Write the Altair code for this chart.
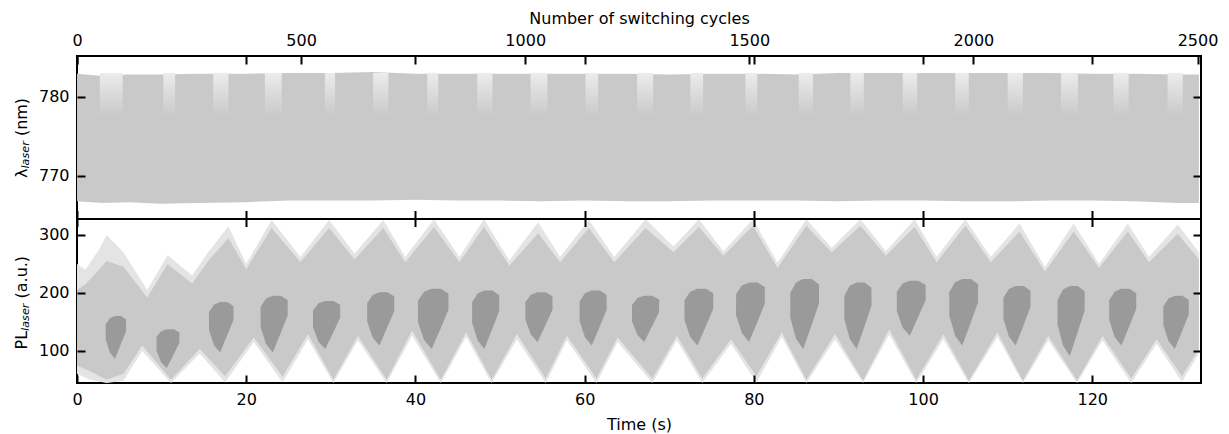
import altair as alt
import pandas as pd

# ---------------- data ----------------
T_MAX = 132.85
CYC_MAX = 2507.8
LAM_DOMAIN = [764.64, 785.13]
PL_DOMAIN = [44.2, 328.5]

time_ticks = [0, 20, 40, 60, 80, 100, 120]
cycle_ticks = [0, 500, 1000, 1500, 2000, 2500]
lam_ticks = [770, 780]
pl_ticks = [100, 200, 300]

# top panel: envelope of the laser wavelength trace
lam_t = [0, 3, 6, 10, 14, 20, 25, 30, 35, 40, 45, 50, 55, 60, 65, 70, 75, 80,
         85, 90, 95, 100, 105, 110, 115, 120, 125, 130, 132.6]
lam_hi = [782.9, 782.6, 782.8, 782.8, 782.9, 782.9, 783.0, 783.0, 783.1, 782.9,
          782.9, 782.9, 782.9, 782.9, 782.9, 782.8, 782.9, 782.9, 782.8, 783.0,
          783.0, 783.0, 783.0, 783.0, 783.0, 782.9, 782.9, 782.8, 782.8]
lam_lo = [766.8, 766.6, 766.7, 766.5, 766.6, 766.7, 766.9, 766.9, 766.9, 767.0,
          766.9, 766.9, 766.8, 766.9, 766.8, 766.8, 766.9, 766.9, 766.9, 766.8,
          766.9, 766.9, 766.8, 766.8, 766.9, 766.9, 766.8, 766.6, 766.6]

# lighter (sparser) stripes near the top of the wavelength band
stripe_start = [2.7, 10.2, 16.1, 22.2, 29.3, 35.0, 41.4, 47.3, 53.6, 60.1, 66.2,
                72.5, 79.0, 85.3, 91.4, 97.6, 103.8, 110.0, 116.3, 122.5, 128.9]
stripe_end = [5.4, 11.6, 17.9, 24.2, 30.5, 36.8, 42.7, 49.1, 55.6, 61.6, 68.1,
              74.0, 80.4, 87.0, 93.0, 99.3, 105.4, 111.8, 118.3, 124.3, 130.7]
stripe_hi = 783.0
stripe_lo = 777.5

# bottom panel: upper and lower envelope of the PL trace (dense part)
pl_up_t = [0, 1.0, 2.6, 3.5, 5.5, 8.3, 10.7, 13.6, 15.5, 17.9, 20.0, 23.0, 26.4,
           29.8, 32.8, 36.2, 38.8, 42.2, 45.2, 48.1, 51.1, 54.5, 57.1, 60.5, 63.5,
           67.2, 70.5, 73.5, 76.4, 79.9, 82.8, 86.2, 89.2, 92.6, 95.6, 99.0,
           101.6, 105.0, 108.0, 111.4, 114.4, 117.8, 120.8, 124.2, 126.7, 130.1,
           132.6]
pl_up = [205, 215, 240, 255, 245, 192, 250, 216, 255, 295, 241, 312, 253, 312,
         258, 312, 253, 314, 253, 314, 247, 303, 253, 312, 253, 312, 270, 314,
         264, 316, 243, 316, 270, 316, 264, 314, 253, 316, 253, 306, 237, 306,
         243, 306, 253, 302, 258]
# faint outer spikes above the dense part
pl_up_faint = [250, 240, 275, 300, 270, 205, 265, 230, 270, 315, 250, 326, 262,
               326, 268, 326, 262, 327, 262, 327, 256, 322, 262, 326, 262, 327,
               280, 327, 272, 327, 252, 327, 278, 327, 272, 327, 262, 327, 262,
               320, 245, 320, 250, 320, 262, 318, 270]
pl_lo_t = [0, 1.5, 3.5, 5.5, 7.7, 11.1, 14.5, 17.5, 20.9, 24.3, 27.3, 30.3, 33.2,
           36.6, 39.6, 43.0, 46.0, 49.0, 52.0, 55.4, 57.9, 61.4, 63.9, 68.0, 70.9,
           73.9, 77.3, 80.3, 83.3, 86.2, 89.6, 92.9, 96.0, 99.2, 102.4, 105.4,
           108.8, 111.8, 114.8, 118.2, 121.2, 124.6, 127.6, 130.6, 132.6]
pl_lo = [74, 65, 50, 60, 109, 50, 103, 56, 123, 55, 129, 50, 126, 50, 135, 50,
         132, 50, 129, 52, 126, 52, 123, 52, 126, 52, 120, 56, 132, 50, 129, 48,
         137, 50, 129, 48, 132, 48, 126, 48, 126, 52, 120, 56, 103]
pl_lo_faint = [60, 50, 44, 48, 100, 44, 95, 45, 115, 45, 120, 44, 118, 44, 126,
               44, 124, 44, 120, 44, 118, 44, 115, 44, 118, 44, 112, 45, 124, 44,
               120, 44, 128, 44, 120, 44, 124, 44, 118, 44, 118, 44, 112, 46, 95]

# darker (overlapping) blobs in the PL trace: time extent and value extent
blob_start = [3.4, 9.4, 15.6, 21.7, 27.9, 34.3, 40.3, 46.7, 53.0, 59.4, 65.6,
              71.8, 77.9, 84.3, 90.7, 96.9, 103.1, 109.5, 115.9, 122.0, 128.4]
blob_end = [5.8, 12.1, 18.5, 24.9, 31.1, 37.5, 43.9, 49.9, 56.2, 62.6, 68.8,
            75.2, 81.3, 87.7, 93.9, 100.3, 106.5, 112.7, 119.1, 125.2, 131.4]
blob_top = [160, 137, 184, 195, 186, 201, 207, 204, 201, 204, 195, 207, 218,
            224, 218, 221, 224, 212, 212, 207, 195]
blob_bottom = [86, 70, 97, 97, 103, 109, 103, 103, 115, 109, 115, 109, 115, 103,
               103, 126, 109, 109, 91, 109, 103]

# ---------------- layout / style ----------------
W, H = 1124, 327
MID = 162.5
LIGHT = "#c9c9c9"
FAINT = "#e4e4e4"
DARK = "#9a9a9a"
FONT = "DejaVu Sans"
# outline of one blob: (fraction of width, low fraction, high fraction)
BLOB_SHAPE = [(0.0, 0.45, 0.80), (0.2, 0.15, 0.95), (0.45, 0.0, 1.0),
              (0.75, 0.35, 1.0), (1.0, 0.65, 0.92)]

df_lam = pd.DataFrame({"t": lam_t, "hi": lam_hi, "lo": lam_lo})
df_stripe = pd.DataFrame({"s": stripe_start, "e": stripe_end,
                          "hi": [stripe_hi] * len(stripe_start),
                          "lo": [stripe_lo] * len(stripe_start)})
df_up = pd.DataFrame({"t": pl_up_t, "v": pl_up, "f": pl_up_faint})
df_lo = pd.DataFrame({"t": pl_lo_t, "v": pl_lo, "f": pl_lo_faint})
rows = []
for i, (s, e, top, bot) in enumerate(zip(blob_start, blob_end, blob_top, blob_bottom)):
    for fx, flo, fhi in BLOB_SHAPE:
        rows.append({"blob": i, "t": s + fx * (e - s),
                     "lo": bot + flo * (top - bot), "hi": bot + fhi * (top - bot)})
df_blob = pd.DataFrame(rows)
df_tt = pd.DataFrame({"t": time_ticks})
df_ct = pd.DataFrame({"c": cycle_ticks})
df_lt = pd.DataFrame({"v": lam_ticks})
df_pt = pd.DataFrame({"v": pl_ticks})
one = pd.DataFrame({"k": [0]})

xs = alt.Scale(domain=[0, T_MAX], nice=False, zero=False)
xc = alt.Scale(domain=[0, CYC_MAX], nice=False, zero=False)
ys_top = alt.Scale(domain=LAM_DOMAIN, range=[MID, 0], nice=False, zero=False)
ys_bot = alt.Scale(domain=PL_DOMAIN, range=[H, MID], nice=False, zero=False)

common_tick = dict(tickSize=8, tickWidth=2, tickColor="black", grid=False,
                   zindex=1, labelFlush=False)

# ---------------- layers ----------------
band = alt.Chart(df_lam).mark_area(color=LIGHT).encode(
    x=alt.X("t:Q", scale=xs, axis=None),
    y=alt.Y("hi:Q", scale=ys_top,
            axis=alt.Axis(orient="left", offset=-8, labelPadding=8, domain=False,
                          title=None, values=lam_ticks, format="d", **common_tick)),
    y2="lo:Q",
)

stripes = alt.Chart(df_stripe).mark_rect(
    color=alt.Gradient(gradient="linear",
                       stops=[alt.GradientStop(offset=0, color="#ececec"),
                              alt.GradientStop(offset=0.5, color="#dadada"),
                              alt.GradientStop(offset=1, color=LIGHT)],
                       x1=0, x2=0, y1=0, y2=1)
).encode(
    x=alt.X("s:Q", scale=xs, axis=None), x2="e:Q",
    y=alt.Y("hi:Q", scale=ys_top, axis=None), y2="lo:Q",
)

lam_right = alt.Chart(df_lt).mark_point(opacity=0).encode(
    y=alt.Y("v:Q", scale=ys_top,
            axis=alt.Axis(orient="right", offset=-8, labels=False, domain=False,
                          title=None, values=lam_ticks, **common_tick)))

upper_faint = alt.Chart(df_up).mark_area(color=FAINT).encode(
    x=alt.X("t:Q", scale=xs, axis=None),
    y=alt.Y("f:Q", scale=ys_bot, axis=None),
    y2=alt.Y2(datum=150),
)
lower_faint = alt.Chart(df_lo).mark_area(color=FAINT).encode(
    x=alt.X("t:Q", scale=xs, axis=None),
    y=alt.Y("f:Q", scale=ys_bot, axis=None),
    y2=alt.Y2(datum=185),
)
upper = alt.Chart(df_up).mark_area(color=LIGHT).encode(
    x=alt.X("t:Q", scale=xs, axis=None),
    y=alt.Y("v:Q", scale=ys_bot,
            axis=alt.Axis(orient="left", offset=-8, labelPadding=8, domain=False,
                          title=None, values=pl_ticks, format="d", **common_tick)),
    y2=alt.Y2(datum=150),
)
lower = alt.Chart(df_lo).mark_area(color=LIGHT).encode(
    x=alt.X("t:Q", scale=xs, axis=None),
    y=alt.Y("v:Q", scale=ys_bot, axis=None),
    y2=alt.Y2(datum=185),
)
blobs = alt.Chart(df_blob).mark_area(color=DARK).encode(
    x=alt.X("t:Q", scale=xs, axis=None),
    y=alt.Y("hi:Q", scale=ys_bot, axis=None),
    y2="lo:Q",
    detail="blob:N",
)
pl_right = alt.Chart(df_pt).mark_point(opacity=0).encode(
    y=alt.Y("v:Q", scale=ys_bot,
            axis=alt.Axis(orient="right", offset=-8, labels=False, domain=False,
                          title=None, values=pl_ticks, **common_tick)))

def time_axis_layer(axis):
    return alt.Chart(df_tt).mark_point(opacity=0).encode(
        x=alt.X("t:Q", scale=xs, axis=axis))

ax_bottom = time_axis_layer(alt.Axis(
    orient="bottom", offset=-8, labelPadding=8, domain=False, values=time_ticks,
    format="d", title="Time (s)", titlePadding=9, **common_tick))
ax_mid_down = time_axis_layer(alt.Axis(
    orient="bottom", offset=-(H - MID), labels=False, domain=True, domainColor="black",
    domainWidth=2, values=time_ticks, title=None, **common_tick))
ax_mid_up = time_axis_layer(alt.Axis(
    orient="top", offset=-MID, labels=False, domain=False, values=time_ticks,
    title=None, **common_tick))
ax_top_time = time_axis_layer(alt.Axis(
    orient="top", offset=-8, labels=False, domain=False, values=time_ticks,
    title=None, **common_tick))
ax_cycles = alt.Chart(df_ct).mark_point(opacity=0).encode(
    x=alt.X("c:Q", scale=xc,
            axis=alt.Axis(orient="top", offset=-8, labelPadding=8, domain=False,
                          values=cycle_ticks, format="d",
                          title="Number of switching cycles", titlePadding=6,
                          **common_tick)))

def label(text, x, y, size=16, style="normal"):
    return alt.Chart(one).mark_text(
        text=text, angle=270, align="left", baseline="alphabetic", font=FONT,
        fontSize=size, fontStyle=style, color="black",
    ).encode(x=alt.value(x), y=alt.value(y))

titles = [
    label("λ", -50.5, 122),
    label("laser", -48.5, 112.5, size=11.2, style="italic"),
    label("(nm)", -50.5, 80.1),
    label("PL", -50.5, 293.5),
    label("laser", -48.5, 274.9, size=11.2, style="italic"),
    label("(a.u.)", -50.5, 242.5),
]

chart = alt.layer(
    band, stripes, lam_right, upper_faint, lower_faint, upper, lower, blobs,
    pl_right, ax_bottom, ax_mid_down, ax_mid_up, ax_top_time, ax_cycles, *titles,
).resolve_scale(x="independent", y="independent").properties(
    width=W, height=H,
    autosize=alt.AutoSizeParams(type="none"),
    padding={"left": 77, "top": 56, "right": 28, "bottom": 51},
).configure_view(stroke="black", strokeWidth=2).configure_axis(
    labelFont=FONT, labelFontSize=16, labelColor="black",
    titleFont=FONT, titleFontSize=16, titleFontWeight="normal", titleColor="black",
)

chart.save("out.html", embed_options={"renderer": "svg", "actions": False})
